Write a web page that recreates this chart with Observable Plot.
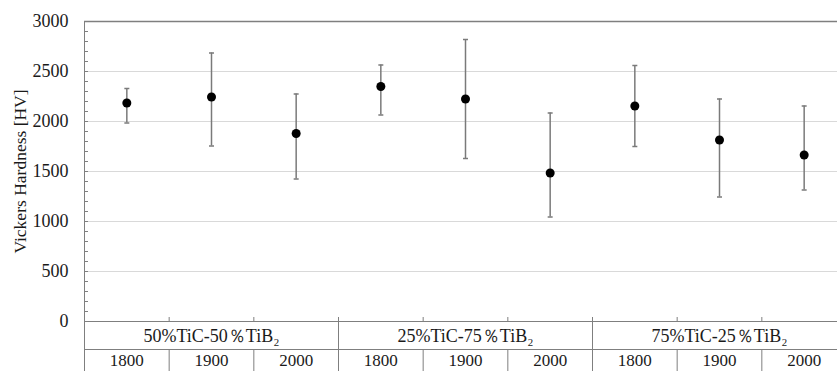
<!DOCTYPE html>
<html>
<head>
<meta charset="utf-8">
<script src="https://cdn.jsdelivr.net/npm/d3@7"></script>
<script src="https://cdn.jsdelivr.net/npm/@observablehq/plot@0.6"></script>
<style>
html, body { margin: 0; padding: 0; background: #fff; overflow: hidden; }
#chart svg { display: block; overflow: hidden; }
#chart svg text { font-family: 'Liberation Serif', 'Times New Roman', serif; }
</style>
</head>
<body>
<div id="chart"></div>
<script>
// ---- data ----
const groups = ["50%TiC-50％TiB₂", "25%TiC-75％TiB₂", "75%TiC-25％TiB₂"];
const temps = ["1800", "1900", "2000"];
const meanHV  = [2185, 2245, 1880, 2350, 2225, 1485, 2155, 1815, 1665];
const lowerHV = [1985, 1755, 1425, 2065, 1630, 1045, 1750, 1245, 1315];
const upperHV = [2330, 2685, 2275, 2565, 2820, 2085, 2560, 2225, 2155];
const yTicks = [0, 500, 1000, 1500, 2000, 2500, 3000];
const yMinorTicks = d3.range(0, 3001, 100);
const yLabel = "Vickers Hardness [HV]";

// ---- derived tables ----
const rows = meanHV.map((m, i) => ({
  pos: i + 0.5,
  group: groups[Math.floor(i / temps.length)],
  temp: temps[i % temps.length],
  mean: m, lo: lowerHV[i], hi: upperHV[i]
}));
const groupRows = groups.map((g, i) => ({ pos: i * temps.length + temps.length / 2, label: g }));
const nCells = rows.length;
const groupEdges = d3.range(0, nCells + 1, temps.length);
const cellEdges = d3.range(1, nCells).filter(v => v % temps.length !== 0);
const allInnerEdges = d3.range(1, nCells);

const font = "'Liberation Serif', 'Times New Roman', serif";
const axisGray = "#7f7f7f";
const textColor = "#1a1a1a";
const rowBreak = -280;   // boundary between the two category label rows (y units below 0)
const yBottom = -500;

const capSymbol = { draw(ctx, size) { const w = Math.sqrt(size / Math.PI); ctx.moveTo(-w, 0); ctx.lineTo(w, 0); } };

const chart = Plot.plot({
  width: 837,
  height: 371,
  marginLeft: 84,
  marginRight: 0,
  marginTop: 21,
  marginBottom: 0,
  style: { fontFamily: font, fontSize: "18px", color: textColor, background: "#fff" },
  x: { type: "linear", domain: [0, nCells], range: [84, 846], axis: null },
  y: { type: "linear", domain: [yBottom, 3000], range: [371, 21], axis: null },
  marks: [
    // gridlines
    Plot.ruleY(yTicks.filter(v => v > 0 && v < 3000), { x1: 0, x2: nCells, stroke: "#d9d9d9", strokeWidth: 1 }),
    // frame top & x axis line
    Plot.ruleY([3000], { x1: 0, x2: nCells, stroke: axisGray, strokeWidth: 1.5 }),
    Plot.ruleY([0], { x1: 0, x2: nCells, stroke: axisGray, strokeWidth: 1 }),
    Plot.ruleY([rowBreak], { x1: 0, x2: nCells, stroke: axisGray, strokeWidth: 1 }),
    // left axis line (runs through the label table)
    Plot.ruleX([0], { y1: yBottom, y2: 3000, stroke: axisGray, strokeWidth: 1 }),
    // group separators
    Plot.ruleX(groupEdges.slice(1), { y1: yBottom, y2: 0, stroke: axisGray, strokeWidth: 1 }),
    // cell separators (lower row)
    Plot.ruleX(cellEdges, { y1: yBottom, y2: rowBreak, stroke: axisGray, strokeWidth: 1 }),
    // small category ticks on the x axis
    Plot.ruleX(allInnerEdges, { y1: 0, y2: 40, stroke: axisGray, strokeWidth: 1 }),
    // y minor ticks (inside)
    Plot.axisY({ ticks: yMinorTicks, tickSize: -4, fill: "none", stroke: axisGray, label: null }),
    // y tick labels
    Plot.axisY({ ticks: yTicks, tickSize: 0, tickPadding: 16, label: null, fill: textColor, fontSize: 18, tickFormat: d => String(d) }),
    // y label
    Plot.text([yLabel], { frameAnchor: "left", y: [1500], text: d => d, rotate: -90, dx: -59, lineAnchor: "bottom", textAnchor: "middle", fontSize: 17.5, fill: textColor }),
    // error bars
    Plot.ruleX(rows, { x: "pos", y1: "lo", y2: "hi", stroke: "#7a7a7a", strokeWidth: 1.5 }),
    Plot.dot(rows, { x: "pos", y: "hi", symbol: capSymbol, r: 2.5, stroke: "#7a7a7a", strokeWidth: 1.5, fill: "none" }),
    Plot.dot(rows, { x: "pos", y: "lo", symbol: capSymbol, r: 2.5, stroke: "#7a7a7a", strokeWidth: 1.5, fill: "none" }),
    // means
    Plot.dot(rows, { x: "pos", y: "mean", r: 4.5, fill: "black", stroke: "none" }),
    // category labels
    Plot.text(groupRows, { x: "pos", y: d => 0, text: "label", dy: 15, fontSize: 18, fill: textColor }),
    Plot.text(rows, { x: "pos", y: d => 0, text: "temp", dy: 39, fontSize: 17, fill: textColor })
  ]
});

document.getElementById("chart").appendChild(chart);
</script>
</body>
</html>
